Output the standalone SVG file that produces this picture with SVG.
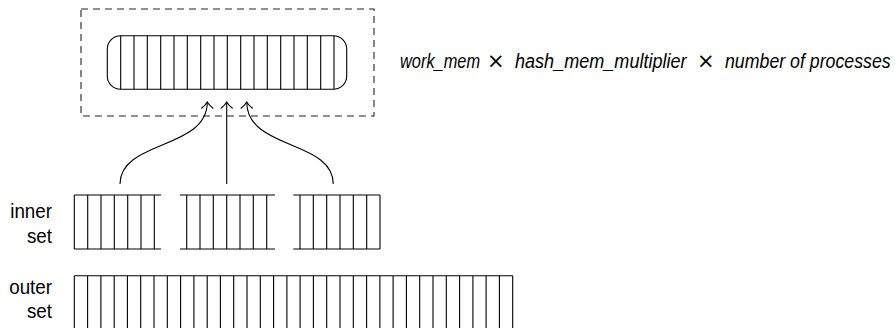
<svg xmlns="http://www.w3.org/2000/svg" width="895" height="328" viewBox="0 0 895 328">
<style>
.ln{fill:none;stroke:#000;stroke-width:1.1}
.dash{fill:none;stroke:#222;stroke-width:1.1;stroke-dasharray:7 5}
.lbl{font-family:'Liberation Sans',Arial,sans-serif;font-size:20px;fill:#000;text-anchor:end}
.it{font-family:'Liberation Sans',Arial,sans-serif;font-style:italic;font-size:21px;fill:#000}
.x{font-family:'DejaVu Sans',sans-serif;font-size:21px;fill:#000}
</style>
<defs>
<marker id="arr" viewBox="-9 -8 10 16" markerWidth="10" markerHeight="16" refX="0" refY="0" orient="auto" markerUnits="userSpaceOnUse">
<path d="M-6.5,-6 Q-3,-1.5 0,0 Q-3,1.5 -6.5,6" fill="none" stroke="#000" stroke-width="1.1"/>
</marker>
</defs>
<rect width="895" height="328" fill="#fff"/>
<g id="memory-area">
<rect class="dash" x="81" y="9" width="293" height="107"/>
</g>
<g id="hash-table">
<rect class="ln" x="107.3" y="35.7" width="239.4" height="53.6" rx="13.4" ry="13.4"/>
<path class="ln" d="M120.7,35.7V89.3M134,35.7V89.3M147.3,35.7V89.3M160.7,35.7V89.3M174,35.7V89.3M187.3,35.7V89.3M200.7,35.7V89.3M214,35.7V89.3M227.3,35.7V89.3M240.7,35.7V89.3M254,35.7V89.3M267.3,35.7V89.3M280.7,35.7V89.3M294,35.7V89.3M307.3,35.7V89.3M320.7,35.7V89.3M334,35.7V89.3"/>
</g>
<g id="formula">
<text class="it" transform="translate(400,68) scale(0.78,1)">work_mem</text>
<text class="x" x="487" y="68">×</text>
<text class="it" transform="translate(515,68) scale(0.86,1)">hash_mem_multiplier</text>
<text class="x" x="697" y="68">×</text>
<text class="it" transform="translate(725,68) scale(0.845,1)">number of processes</text>
</g>
<g id="connectors">
<path class="ln" d="M120,184 C120,140 207.3,150 207.3,102" marker-end="url(#arr)"/>
<path class="ln" d="M226.7,184 V102" marker-end="url(#arr)"/>
<path class="ln" d="M333.3,184 C333.3,140 246.7,150 246.7,102" marker-end="url(#arr)"/>
</g>
<g id="inner-set">
<path class="ln" d="M74.3,195H161M74.3,249H161M74.3,195V249M87.7,195V249M101,195V249M114.3,195V249M127.7,195V249M141,195V249M154.3,195V249"/>
<path class="ln" d="M180,195H275M180,249H275M186.7,195V249M200,195V249M213.3,195V249M226.7,195V249M240,195V249M253.3,195V249M266.7,195V249"/>
<path class="ln" d="M293.3,195H380M293.3,249H380M300,195V249M313.3,195V249M326.7,195V249M340,195V249M353.3,195V249M366.7,195V249M380,195V249"/>
</g>
<g id="outer-set">
<path class="ln" d="M74.3,275.7H512.7M74.3,275.7V328M87.6,275.7V328M100.9,275.7V328M114.2,275.7V328M127.4,275.7V328M140.7,275.7V328M154,275.7V328M167.3,275.7V328M180.6,275.7V328M193.9,275.7V328M207.2,275.7V328M220.4,275.7V328M233.7,275.7V328M247,275.7V328M260.3,275.7V328M273.6,275.7V328M286.9,275.7V328M300.1,275.7V328M313.4,275.7V328M326.7,275.7V328M340,275.7V328M353.3,275.7V328M366.6,275.7V328M379.9,275.7V328M393.1,275.7V328M406.4,275.7V328M419.7,275.7V328M433,275.7V328M446.3,275.7V328M459.6,275.7V328M472.9,275.7V328M486.1,275.7V328M499.4,275.7V328M512.7,275.7V328"/>
</g>
<g id="labels">
<text class="lbl" transform="translate(52,218) scale(0.94,1)">inner</text>
<text class="lbl" transform="translate(52,243) scale(0.94,1)">set</text>
<text class="lbl" transform="translate(52,294) scale(0.94,1)">outer</text>
<text class="lbl" transform="translate(52,318) scale(0.94,1)">set</text>
</g>
</svg>
